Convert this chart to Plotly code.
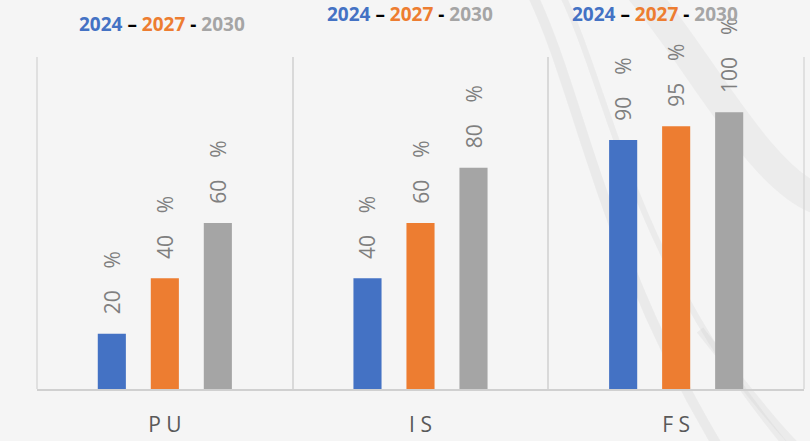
import plotly.graph_objects as go

categories = ["PU", "IS", "FS"]
tick_labels = ["P U", "I S", "F S"]
years = ["2024", "2027", "2030"]
values_2024 = [20, 40, 90]
values_2027 = [40, 60, 95]
values_2030 = [60, 80, 100]

colors = {"2024": "#4472C4", "2027": "#ED7D31", "2030": "#A5A5A5"}
series = {"2024": values_2024, "2027": values_2027, "2030": values_2030}

W, H = 810, 441
L, R, T, B = 37, 6, 57, 52


def px(x, y):
    # pixel position -> paper coords of the plot area
    return (x - L) / (W - L - R), (H - B - y) / (H - T - B)


def swirl(points, width, color):
    pts = [px(x, y) for x, y in points]
    d = f"M {pts[0][0]},{pts[0][1]} C " + " ".join(f"{a},{b}" for a, b in pts[1:])
    return dict(type="path", path=d, xref="paper", yref="paper", layer="below",
                line=dict(color=color, width=width))


fig = go.Figure()
for yr in years:
    fig.add_trace(go.Bar(
        x=categories,
        y=series[yr],
        name=yr,
        marker=dict(color=colors[yr], line=dict(width=0)),
        text=[f"\u00a0\u00a0\u00a0{v}\u00a0\u00a0\u00a0\u00a0%" for v in series[yr]],
        textposition="outside",
        textangle=-90,
        textfont=dict(family="Open Sans, Liberation Sans", size=21, color="#7f7f7f"),
        constraintext="none",
        cliponaxis=False,
        hoverinfo="skip",
    ))

title_html = ("<b><span style='color:#4472C4'>2024</span>"
              "<span style='color:#000000'> – </span>"
              "<span style='color:#ED7D31'>2027</span>"
              "<span style='color:#000000'> - </span>"
              "<span style='color:#A5A5A5'>2030</span></b>")
title_pos = [(162, 24), (410, 14), (655, 14)]
annotations = []
for cx, cy in title_pos:
    ax, ay = px(cx, cy)
    annotations.append(dict(x=ax, y=ay, xref="paper", yref="paper", text=title_html,
                            showarrow=False, xanchor="center", yanchor="middle",
                            font=dict(family="Open Sans, Liberation Sans", size=19)))

shapes = [
    swirl([(530, -10), (580, 90), (600, 250), (720, 450)], 10, "rgba(205,205,205,0.25)"),
    swirl([(560, -10), (610, 90), (630, 260), (790, 450)], 6, "rgba(200,200,200,0.22)"),
    swirl([(640, -10), (700, 60), (760, 180), (820, 200)], 30, "rgba(215,215,215,0.30)"),
    swirl([(700, 330), (740, 380), (770, 420), (800, 450)], 8, "rgba(200,200,200,0.22)"),
]
# frame lines at the outer category boundaries
for xb in (0, 1):
    shapes.append(dict(type="line", xref="paper", yref="paper", x0=xb, x1=xb, y0=0, y1=1,
                       line=dict(color="#d9d9d9", width=1.5), layer="below"))

fig.update_layout(
    width=W, height=H,
    barmode="group",
    bargap=0.378,
    bargroupgap=0.47,
    showlegend=False,
    margin=dict(l=L, r=R, t=T, b=B),
    paper_bgcolor="#f5f5f5",
    plot_bgcolor="rgba(0,0,0,0)",
    annotations=annotations,
    shapes=shapes,
    font=dict(family="Open Sans, Liberation Sans"),
)
fig.update_xaxes(
    range=[-0.5, 2.5], automargin=False,
    tickmode="array", tickvals=categories, ticktext=tick_labels,
    tickson="boundaries", ticks="", showgrid=True, gridcolor="#d9d9d9", gridwidth=1.5,
    showline=True, linecolor="#d0d0d0", linewidth=2,
    tickfont=dict(size=21, color="#595959"), ticklabelstandoff=16,
)
fig.update_yaxes(range=[0, 120], visible=False, showgrid=False, zeroline=False,
                 automargin=False)

fig.write_html("out.html", config={"displayModeBar": False},
               post_script="document.body.style.margin='0';")
